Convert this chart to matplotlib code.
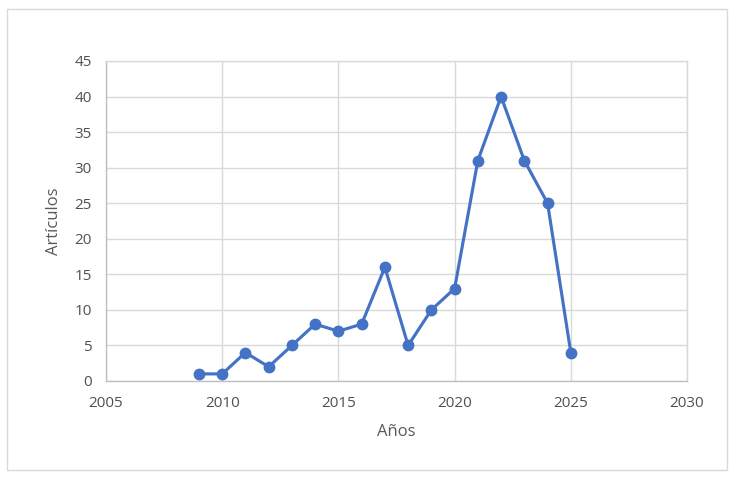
import matplotlib
matplotlib.use("Agg")
import matplotlib.pyplot as plt
from matplotlib.patches import Rectangle

years = [2009, 2010, 2011, 2012, 2013, 2014, 2015, 2016, 2017, 2018, 2019, 2020, 2021, 2022, 2023, 2024, 2025]
articles = [1, 1, 4, 2, 5, 8, 7, 8, 16, 5, 10, 13, 31, 40, 31, 25, 4]
x_ticks = [2005, 2010, 2015, 2020, 2025, 2030]
y_ticks = [0, 5, 10, 15, 20, 25, 30, 35, 40, 45]

plt.rcParams['font.family'] = ['Open Sans', 'DejaVu Sans']

W, H = 735, 478
fig = plt.figure(figsize=(W / 100, H / 100), dpi=100)
fig.patches.append(Rectangle((7 / W, 1 - 470 / H), 720 / W, 461 / H,
                             transform=fig.transFigure, fill=False,
                             edgecolor='#D9D9D9', linewidth=1.0))

ax = fig.add_axes([106 / W, 1 - 381 / H, 581 / W, 320 / H])
ax.plot(years, articles, color='#4472C4', linewidth=2.25, marker='o',
        markersize=7.5, markerfacecolor='#4472C4', markeredgecolor='#4472C4',
        zorder=3)

ax.set_xlim(2005, 2030)
ax.set_ylim(0, 45)
ax.set_xticks(x_ticks)
ax.set_yticks(y_ticks)
ax.grid(True, color='#D9D9D9', linewidth=1.0, zorder=0)
ax.set_axisbelow(True)

for side in ['top', 'right']:
    ax.spines[side].set_color('#D9D9D9')
    ax.spines[side].set_linewidth(1.0)
for side in ['left', 'bottom']:
    ax.spines[side].set_color('#BFBFBF')
    ax.spines[side].set_linewidth(1.0)

ax.tick_params(axis='both', length=0, labelsize=11, labelcolor='#505050')
ax.tick_params(axis='x', pad=11)
ax.tick_params(axis='y', pad=10)

ax.set_xlabel('Años', fontsize=12, color='#595959', labelpad=9)
ax.set_ylabel('Artículos', fontsize=12, color='#595959', labelpad=9)

fig.savefig('out.png', dpi=100)
